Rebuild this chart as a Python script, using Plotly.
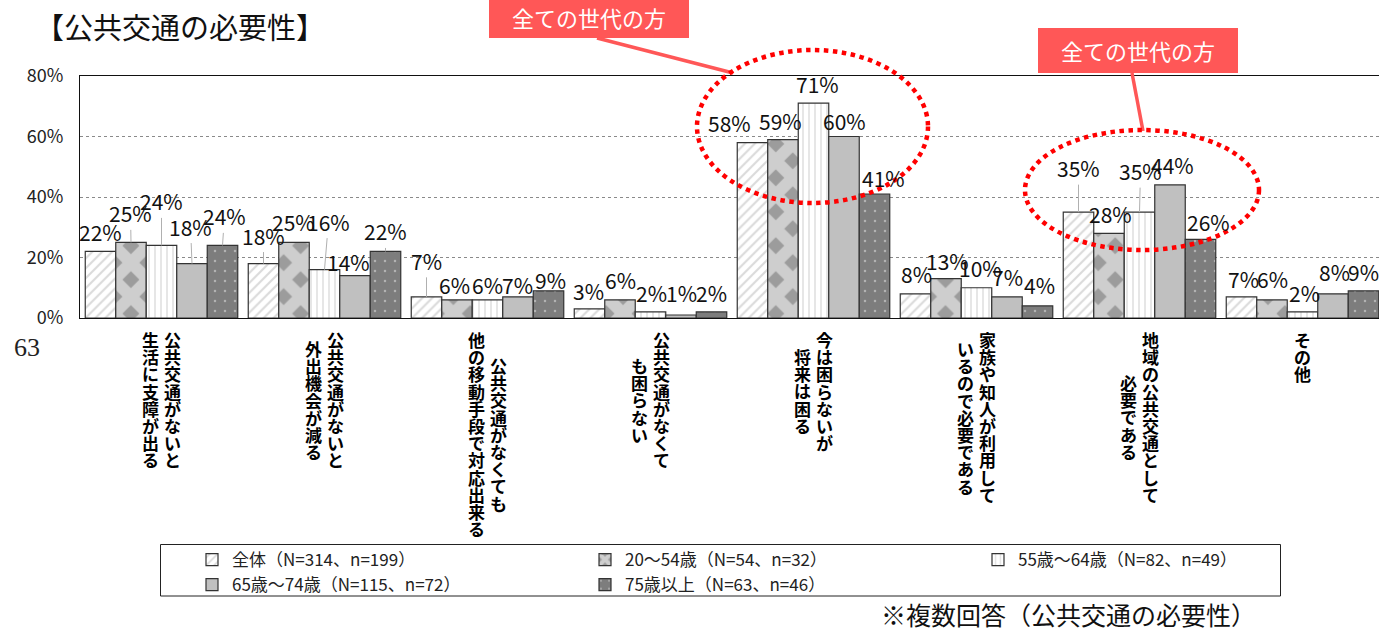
import plotly.graph_objects as go

# ---- data ---------------------------------------------------------------
categories = [
    ["公共交通がないと", "生活に支障が出る"],
    ["公共交通がないと", "外出機会が減る"],
    ["公共交通がなくても", "他の移動手段で対応出来る"],
    ["公共交通がなくて", "も困らない"],
    ["今は困らないが", "将来は困る"],
    ["家族や知人が利用して", "いるので必要である"],
    ["地域の公共交通として", "必要である"],
    ["その他"],
]
series_names = [
    "全体（N=314、n=199）",
    "20～54歳（N=54、n=32）",
    "55歳～64歳（N=82、n=49）",
    "65歳～74歳（N=115、n=72）",
    "75歳以上（N=63、n=46）",
]
v_all = [22, 18, 7, 3, 58, 8, 35, 7]
v_20_54 = [25, 25, 6, 6, 59, 13, 28, 6]
v_55_64 = [24, 16, 6, 2, 71, 10, 35, 2]
v_65_74 = [18, 14, 7, 1, 60, 7, 44, 8]
v_75_up = [24, 22, 9, 2, 41, 4, 26, 9]
series_values = [v_all, v_20_54, v_55_64, v_65_74, v_75_up]

y_tickvals = [0, 20, 40, 60, 80]
y_ticktext = ["0%", "20%", "40%", "60%", "80%"]

title_text = "【公共交通の必要性】"
note_text = "※複数回答（公共交通の必要性）"
callout_text = "全ての世代の方"

# ---- label placement (pixel offsets of each value label from its bar top) --
label_dx = [
    [0, 0, 0, -1, -23, 1, 0, 2],
    [-0.5, -0.5, -2.5, 0.5, -2.5, 1.5, 1.5, 0.5],
    [0, 4, 0, 1, 4, 4, 1, 2],
    [-1.5, -6.5, -0.5, 0.5, 0.5, 0.5, 2.5, 1.5],
    [2, 0, 2, 0, 9, 2, 8, 0],
]
label_dy = [
    [-19.5, -28, -36, -18, -19.5, -20, -44, -18],
    [-29, -20, -15, -20, -18.5, -18, -19, -21],
    [-44, -48, -15, -19, -19, -20, -41, -19],
    [-37, -14, -12, -22, -15.5, -20, -20, -22],
    [-29, -20, -11, -19, -16, -21, -17, -19],
]
leader = [
    [0, 1, 1, 0, 0, 0, 1, 0],
    [1, 0, 0, 0, 0, 0, 0, 0],
    [1, 1, 0, 0, 0, 0, 1, 0],
    [1, 0, 0, 0, 0, 0, 0, 0],
    [1, 1, 0, 0, 0, 0, 0, 0],
]

# ---- layout geometry ----------------------------------------------------
FIG_W, FIG_H = 1379, 634
ML, MR, MT, MB = 80, 0, 76, 316
PW = FIG_W - ML - MR
PH = FIG_H - MT - MB
CAT_PX = 163.0
X_RANGE = [-0.5, -0.5 + PW / CAT_PX]
BARGAP = 1 - 5 * 30.5 / CAT_PX
BAR_W = (1 - BARGAP) / 5

FONT = "Noto Sans CJK JP"
RED = "#FF5757"


def px_x(px):
    return (px - ML) / PW


def px_y(py):
    return (MT + PH - py) / PH


patterns = [
    dict(shape="/", bgcolor="white", fgcolor="#b5b5b5", size=7, solidity=0.3),
    dict(shape="x", bgcolor="#9c9c9c", fgcolor="white", size=24, solidity=0.75),
    dict(shape="|", bgcolor="white", fgcolor="#c8c8c8", size=6, solidity=0.3),
    dict(shape="", bgcolor="#c0c0c0", fgcolor="#c0c0c0"),
    dict(shape=".", bgcolor="#7d7d7d", fgcolor="#e6e6e6", size=10, solidity=0.05),
]
bar_colors = ["white", "#9c9c9c", "white", "#c0c0c0", "#7d7d7d"]

x_idx = list(range(len(categories)))

fig = go.Figure()
for s, (name, vals) in enumerate(zip(series_names, series_values)):
    fig.add_trace(go.Bar(
        x=x_idx, y=vals, name=name,
        marker=dict(color=bar_colors[s], pattern=patterns[s],
                    line=dict(color="#333333", width=1.2)),
        hoverinfo="skip",
    ))

annotations = []

# value labels
for s, vals in enumerate(series_values):
    for k, v in enumerate(vals):
        xc = k + (s - 2) * BAR_W
        dx, dy = label_dx[s][k], label_dy[s][k]
        common = dict(x=xc, y=v, xref="x", yref="y", text=f"{v}%",
                      font=dict(family=FONT, size=21, color="#111"),
                      xanchor="center", yanchor="middle")
        if leader[s][k]:
            annotations.append(dict(**common, showarrow=True, arrowhead=0,
                                    arrowwidth=1, arrowcolor="#b0b0b0",
                                    ax=dx, ay=dy, standoff=0))
        else:
            annotations.append(dict(**common, showarrow=False,
                                    xshift=dx, yshift=-dy))

# vertical (tategaki) category labels: one column of stacked characters per
# line, the first line on the right, columns centred on each other
STEP = 17.2
CHAR_PX = 17
TOP_PX = 331
for k, cols in enumerate(categories):
    n = len(cols)
    maxlen = max(len(c) for c in cols)
    ymid = TOP_PX + maxlen * STEP / 2
    for c, line in enumerate(cols):
        xoff = 0 if n == 1 else (11 if c == 0 else -11)
        text = "<br>".join(
            f'<span style="font-size:{CHAR_PX}px">{ch}</span>' for ch in line)
        annotations.append(dict(
            x=k, y=0, xref="x", yref="paper", text=text, showarrow=False,
            xshift=xoff, yshift=-(ymid - (MT + PH)),
            xanchor="center", yanchor="middle", borderpad=0,
            font=dict(family=FONT, size=STEP / 1.3, color="#000", weight="bold"),
        ))

# title, note and stray page number
annotations.append(dict(x=px_x(33), y=px_y(26), xref="paper", yref="paper",
                        text=title_text, showarrow=False, xanchor="left",
                        yanchor="middle",
                        font=dict(family=FONT, size=29, color="#111")))
annotations.append(dict(x=px_x(1258), y=px_y(614), xref="paper", yref="paper",
                        text=note_text, showarrow=False, xanchor="right",
                        yanchor="middle",
                        font=dict(family=FONT, size=25, color="#111")))
annotations.append(dict(x=px_x(27), y=px_y(347), xref="paper", yref="paper",
                        text="63", showarrow=False, xanchor="center",
                        yanchor="middle",
                        font=dict(family="Liberation Serif", size=26, color="#222")))

# callout boxes
boxes = [(489, 689, -6, 38, 589, 17), (1038, 1238, 28, 73, 1138, 50)]
shapes = []
for x0, x1, y0, y1, tx, ty in boxes:
    shapes.append(dict(type="rect", xref="paper", yref="paper",
                       x0=px_x(x0), x1=px_x(x1), y0=px_y(y1), y1=px_y(y0),
                       fillcolor=RED, line=dict(width=0), layer="above"))
    annotations.append(dict(x=px_x(tx), y=px_y(ty), xref="paper", yref="paper",
                            text=callout_text, showarrow=False,
                            xanchor="center", yanchor="middle",
                            font=dict(family=FONT, size=22, color="white")))

for (xa, ya, xb, yb) in [(597, 38, 733, 73), (1132, 73, 1143, 131)]:
    shapes.append(dict(type="line", xref="paper", yref="paper",
                       x0=px_x(xa), y0=px_y(ya), x1=px_x(xb), y1=px_y(yb),
                       line=dict(color=RED, width=3.5), layer="above"))

for (x0, x1, y0, y1) in [(697, 928, 50, 203), (1025, 1259, 130, 250)]:
    shapes.append(dict(type="circle", xref="paper", yref="paper",
                       x0=px_x(x0), x1=px_x(x1), y0=px_y(y1), y1=px_y(y0),
                       line=dict(color="#FF0000", width=4.5, dash="4.5px,4.5px"),
                       layer="above"))

# legend frame
shapes.append(dict(type="rect", xref="paper", yref="paper",
                   x0=px_x(160.5), x1=px_x(1280.5), y0=px_y(596), y1=px_y(544.5),
                   line=dict(color="#222", width=1), fillcolor="rgba(0,0,0,0)"))

fig.update_layout(
    width=FIG_W, height=FIG_H,
    margin=dict(l=ML, r=MR, t=MT, b=MB, pad=0),
    paper_bgcolor="white", plot_bgcolor="white",
    barmode="group", bargap=BARGAP, bargroupgap=0,
    font=dict(family=FONT, color="#111"),
    xaxis=dict(range=X_RANGE, showticklabels=False, ticks="", showgrid=False,
               zeroline=False, showline=True, linecolor="#111", linewidth=1.3,
               mirror=True, fixedrange=True),
    yaxis=dict(range=[0, 80], tickvals=y_tickvals, ticktext=y_ticktext,
               showgrid=True, gridcolor="#8a8a8a", griddash="dot", gridwidth=1,
               zeroline=False, showline=True, linecolor="#111", linewidth=1.3,
               ticks="", ticklabelstandoff=12,
               tickfont=dict(family=FONT, size=18, color="#222"),
               fixedrange=True),
    showlegend=True,
    legend=dict(orientation="h", x=px_x(192), y=px_y(542), xanchor="left",
                yanchor="top", entrywidth=348, entrywidthmode="pixels",
                bgcolor="rgba(0,0,0,0)", borderwidth=0, traceorder="normal",
                font=dict(family=FONT, size=17, color="#222"),
                itemclick=False, itemdoubleclick=False),
    annotations=annotations,
    shapes=shapes,
)

fig.write_html("out.html")
